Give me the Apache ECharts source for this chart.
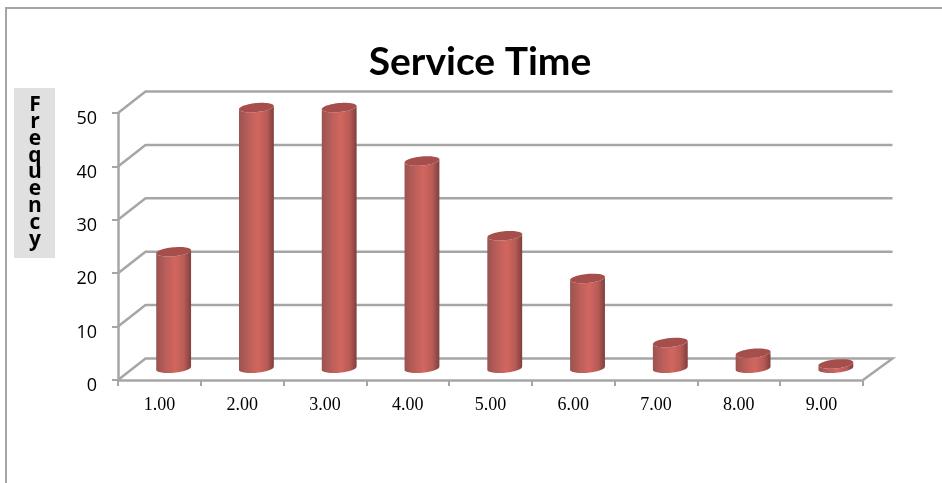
<!DOCTYPE html>
<html>
<head>
<meta charset="utf-8">
<style>html,body{margin:0;padding:0;background:#fff}#chart{width:942px;height:483px}</style>
<script src="https://cdn.jsdelivr.net/npm/echarts@6/dist/echarts.min.js"></script>
</head>
<body>
<div id="chart"></div>
<script>
// Service time frequency table
const categories = ['1.00','2.00','3.00','4.00','5.00','6.00','7.00','8.00','9.00'];
const frequency = [22, 49, 49, 39, 25, 17, 5, 3, 1];
const gridTicks = [0, 10, 20, 30, 40, 50];
const axisLabelText = 'Frequency';

// Pseudo-3D box depth and cylinder shape, in pixels
const DEPTH_X = 27.5, DEPTH_Y = 21.5;
const RX = 17.5, RY = 4.5, TILT = 5.5 * Math.PI / 180;
const WALL = '#a6a6a6';

// Point on a tilted ellipse centred at (cx, cy)
function ellipsePoint(cx, cy, t) {
  const ex = RX * Math.cos(t), ey = RY * Math.sin(t);
  return [cx + ex * Math.cos(TILT) + ey * Math.sin(TILT),
          cy - ex * Math.sin(TILT) + ey * Math.cos(TILT)];
}
function ellipsePoints(cx, cy, from, to, n) {
  const pts = [];
  for (let i = 0; i <= n; i++) pts.push(ellipsePoint(cx, cy, from + (to - from) * i / n));
  return pts;
}

// Back wall gridlines, side-wall diagonals and the right floor edge
function renderWall(params, api) {
  const value = api.value(0);
  const band = api.size([1, 0])[0];
  const p = api.coord([0, value]);
  const x0 = p[0] - band / 2;
  const x1 = x0 + band * categories.length;
  const style = { stroke: WALL, lineWidth: 2.5, fill: null };
  const pts = [[x0, p[1]], [x0 + DEPTH_X, p[1] - DEPTH_Y], [x1 + DEPTH_X + 2, p[1] - DEPTH_Y]];
  if (value === 0) pts.push([x1, p[1]]);
  return { type: 'polyline', shape: { points: pts }, style: style, silent: true };
}

// Cylinder with a shaded body and a flat darker cap
function renderCylinder(params, api) {
  const idx = api.value(0), v = api.value(1);
  const base = api.coord([idx, 0]);
  const top = api.coord([idx, v]);
  const cx = base[0] + DEPTH_X / 2 + 0.5;
  const by = base[1] - DEPTH_Y / 2 - 1;
  const ty = top[1] - DEPTH_Y / 2;
  const body = ellipsePoints(cx, by, Math.PI, 0, 28)
    .concat(ellipsePoints(cx, ty, 0, Math.PI, 28));
  const cap = ellipsePoints(cx, ty, 0, Math.PI * 2, 56);
  return {
    type: 'group',
    children: [
      { type: 'polygon', shape: { points: body }, style: {
        fill: new echarts.graphic.LinearGradient(0, 0, 1, 0, [
          { offset: 0, color: '#9a5350' },
          { offset: 0.3, color: '#bd5f5a' },
          { offset: 0.55, color: '#d2665f' },
          { offset: 0.8, color: '#b85b56' },
          { offset: 1, color: '#7f3f3d' }
        ])
      } },
      { type: 'polygon', shape: { points: cap }, style: { fill: '#a54e4b' } }
    ]
  };
}

const chart = echarts.init(document.getElementById('chart'), null, { renderer: 'canvas' });
chart.setOption({
  animation: false,
  backgroundColor: '#ffffff',
  title: {
    text: 'Service Time',
    left: 475, top: 38, textAlign: 'center',
    textStyle: { fontFamily: 'Lato', fontWeight: 'bold', fontSize: 39, color: '#000' }
  },
  grid: { left: 118, top: 113, width: 745, height: 267, outerBoundsMode: 'none' },
  xAxis: {
    type: 'category',
    data: categories,
    axisLine: { lineStyle: { color: WALL, width: 2.5 } },
    axisTick: { show: true, length: 6, lineStyle: { color: WALL, width: 2 } },
    axisLabel: { fontFamily: 'Liberation Serif', fontSize: 18, color: '#000', margin: 16 },
    splitLine: { show: false }
  },
  yAxis: {
    type: 'value',
    min: 0, max: 50, interval: 10,
    axisLine: { show: true, lineStyle: { color: WALL, width: 2.5 } },
    axisTick: { show: true, length: 6, lineStyle: { color: WALL, width: 2 } },
    axisLabel: {
      fontFamily: 'Open Sans', fontSize: 18, color: '#000', margin: 21,
      verticalAlign: 'top', lineHeight: 12
    },
    splitLine: { show: false }
  },
  graphic: [
    // Outer chart frame, open at the right and bottom
    { type: 'polyline', shape: { points: [[6, 483], [6, 8], [942, 8]] },
      style: { stroke: '#a6a6a6', lineWidth: 2, fill: null }, silent: true },
    // Stacked value-axis caption on its grey plate
    { type: 'rect', shape: { x: 14, y: 88, width: 41, height: 170 },
      style: { fill: '#e0e0e0' }, silent: true },
    { type: 'text', x: 35, y: 172.5, silent: true, style: {
      text: axisLabelText.split('').join('\n'),
      align: 'center', verticalAlign: 'middle',
      font: 'bold 21px "Open Sans"', lineHeight: 16.8, fill: '#000'
    } }
  ],
  series: [
    { type: 'custom', renderItem: renderWall, clip: false, z: 1,
      data: gridTicks.map(v => [v]), encode: { y: 0 } , silent: true },
    { type: 'custom', renderItem: renderCylinder, clip: false, z: 3,
      data: frequency.map((v, i) => [i, v]), encode: { x: 0, y: 1 }, silent: true }
  ]
});
</script>
</body>
</html>
